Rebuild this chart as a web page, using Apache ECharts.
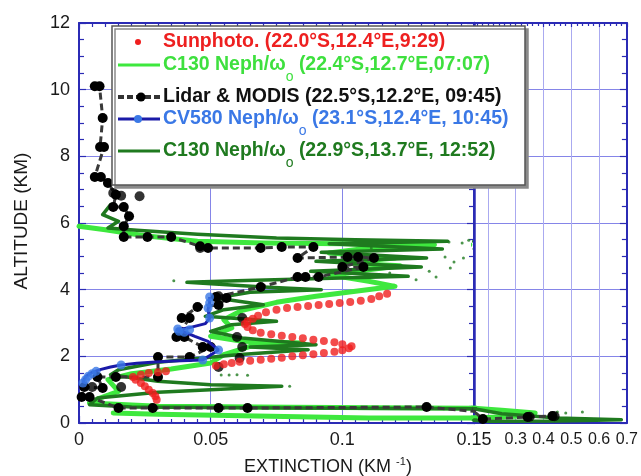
<!DOCTYPE html>
<html>
<head>
<meta charset="utf-8">
<script src="https://cdn.jsdelivr.net/npm/echarts@6/dist/echarts.min.js"></script>
<style>
  html, body { margin: 0; padding: 0; background: #fff; }
  #chart { width: 641px; height: 476px; }
</style>
</head>
<body>
<div id="chart"></div>
<script>
// values: [extinction (1/km), altitude (km)]
const sunphoto = [
  [0.0295, 0.70], [0.0290, 0.80], [0.0280, 0.90], [0.0265, 1.00], [0.0250, 1.10], [0.0235, 1.20],
  [0.0215, 1.30], [0.0205, 1.38], [0.0235, 1.45], [0.0265, 1.50], [0.0300, 1.52], [0.0330, 1.55],
  [0.0520, 1.72], [0.0550, 1.76], [0.0580, 1.80], [0.0610, 1.84], [0.0650, 1.87], [0.0690, 1.90],
  [0.0730, 1.93], [0.0770, 1.96], [0.0810, 2.00], [0.0850, 2.03], [0.0890, 2.06], [0.0930, 2.10],
  [0.0970, 2.14], [0.1000, 2.18], [0.1025, 2.24], [0.1035, 2.30], [0.1000, 2.36], [0.0970, 2.42],
  [0.0930, 2.46], [0.0890, 2.50], [0.0850, 2.54], [0.0810, 2.58], [0.0770, 2.62], [0.0730, 2.66],
  [0.0690, 2.71], [0.0660, 2.78], [0.0640, 2.88], [0.0630, 2.97], [0.0640, 3.05], [0.0660, 3.13],
  [0.0680, 3.22], [0.0710, 3.32], [0.0750, 3.40], [0.0790, 3.45], [0.0830, 3.48], [0.0870, 3.51],
  [0.0910, 3.54], [0.0950, 3.57], [0.0990, 3.60], [0.1030, 3.63], [0.1070, 3.67], [0.1110, 3.72],
  [0.1140, 3.80], [0.1170, 3.88]
];

const c130Early = [
  [0.000, 5.90], [0.010, 5.80], [0.025, 5.62], [0.045, 5.45], [0.070, 5.40], [0.100, 5.38], [0.135, 5.35],
  [0.110, 5.25], [0.095, 5.10], [0.120, 4.95], [0.100, 4.80], [0.122, 4.72], [0.095, 4.45], [0.110, 4.25],
  [0.120, 4.10], [0.105, 3.95], [0.090, 3.80], [0.075, 3.62], [0.062, 3.38], [0.055, 3.10], [0.058, 2.85],
  [0.050, 2.60], [0.062, 2.45], [0.085, 2.40], [0.065, 2.30], [0.055, 2.05], [0.050, 1.80], [0.035, 1.62],
  [0.020, 1.48], [0.011, 1.30], [0.015, 0.95], [0.008, 0.75], [0.004, 0.60], [0.030, 0.50], [0.080, 0.47],
  [0.150, 0.44], [0.250, 0.38], [0.370, 0.30], [0.300, 0.20], [0.150, 0.15], [0.110, 0.15], [0.030, 0.26],
  [0.013, 0.30]
];

const c130Late = [
  [0.012, 6.55], [0.009, 6.25], [0.015, 6.05], [0.011, 5.85], [0.022, 5.78], [0.045, 5.66], [0.075, 5.55],
  [0.105, 5.50], [0.140, 5.45], [0.095, 5.38], [0.138, 5.22], [0.092, 5.12], [0.132, 4.95], [0.090, 4.85],
  [0.130, 4.68], [0.088, 4.55], [0.125, 4.40], [0.085, 4.32], [0.060, 4.27], [0.041, 4.22], [0.070, 4.08],
  [0.092, 4.00], [0.065, 3.92], [0.052, 3.75], [0.070, 3.55], [0.055, 3.40], [0.048, 3.20], [0.075, 3.05],
  [0.058, 2.95], [0.050, 2.75], [0.062, 2.55], [0.090, 2.35], [0.065, 2.28], [0.087, 2.20], [0.060, 2.05],
  [0.030, 1.82], [0.015, 1.60], [0.012, 1.45], [0.030, 1.25], [0.050, 1.15], [0.077, 1.10], [0.050, 1.00],
  [0.030, 0.92], [0.007, 0.75], [0.004, 0.55], [0.020, 0.48], [0.080, 0.45], [0.150, 0.43], [0.250, 0.28],
  [0.450, 0.15], [0.680, 0.10], [0.450, 0.06], [0.200, 0.05], [0.150, 0.08]
];

const c130Dust = [
  [0.1405, 5.43], [0.1455, 5.40], [0.1480, 5.48], [0.1390, 4.98], [0.1424, 4.83], [0.1460, 4.95],
  [0.1410, 4.65], [0.1356, 4.38], [0.1110, 5.25], [0.1330, 4.55], [0.1280, 4.30], [0.1180, 4.50],
  [0.0600, 1.45], [0.0570, 1.44], [0.0540, 1.44], [0.0640, 1.43], [0.0360, 4.27], [0.0800, 1.10],
  [0.4500, 0.33], [0.4800, 0.30], [0.5400, 0.33]
];

const lidarPath = [
  [0.006, 10.10], [0.0078, 10.10], [0.009, 9.15], [0.008, 8.28], [0.0095, 8.28], [0.006, 7.38], [0.0083, 7.38],
  [0.011, 7.20], [0.014, 6.85], [0.013, 6.48], [0.017, 6.48], [0.019, 6.20], [0.017, 5.90], [0.017, 5.58],
  [0.026, 5.58], [0.035, 5.58], [0.046, 5.30], [0.049, 5.25], [0.069, 5.25], [0.077, 5.28], [0.089, 5.28],
  [0.083, 4.95], [0.102, 4.98], [0.106, 4.98], [0.112, 4.95], [0.100, 4.68], [0.108, 4.68], [0.091, 4.38],
  [0.086, 4.38], [0.083, 4.38], [0.069, 4.08], [0.052, 3.78], [0.056, 3.75], [0.053, 3.54], [0.045, 3.48],
  [0.039, 3.15], [0.042, 3.15], [0.037, 2.58], [0.040, 2.58], [0.047, 2.28], [0.050, 2.28], [0.042, 1.98],
  [0.030, 1.98], [0.030, 1.38], [0.014, 1.38], [0.007, 1.38], [0.009, 1.05], [0.002, 1.08], [0.001, 0.78],
  [0.004, 0.78], [0.015, 0.45], [0.028, 0.45], [0.053, 0.45], [0.064, 0.45], [0.132, 0.48], [0.182, 0.12],
  [0.343, 0.18], [0.432, 0.21]
];

const lidarExtra = [
  [0.023, 6.80], [0.062, 3.15], [0.060, 2.58], [0.062, 2.28], [0.061, 1.95], [0.053, 1.68], [0.016, 1.08],
  [0.005, 1.08], [0.013, 6.90], [0.016, 6.82], [0.046, 5.25], [0.053, 3.80], [0.350, 0.19], [0.440, 0.20]
];

const cv580Line = [
  [0.0015, 1.20], [0.0020, 1.32], [0.0030, 1.42], [0.0050, 1.52], [0.0080, 1.60], [0.0120, 1.68],
  [0.0160, 1.74], [0.0220, 1.79], [0.0290, 1.83], [0.0360, 1.86], [0.0470, 1.89], [0.0530, 2.19],
  [0.0490, 2.45], [0.0440, 2.60], [0.0400, 2.73], [0.0370, 2.80], [0.0420, 2.86], [0.0480, 2.98],
  [0.0496, 3.15], [0.0490, 3.40], [0.0496, 3.60], [0.0496, 3.78]
];

const cv580Dots = [
  [0.0015, 1.20], [0.0025, 1.30], [0.0035, 1.40], [0.0050, 1.48], [0.0065, 1.55], [0.0160, 1.74],
  [0.0470, 1.89], [0.0530, 2.19], [0.0380, 2.75], [0.0400, 2.72], [0.0420, 2.80], [0.0375, 2.82],
  [0.0496, 3.15], [0.0490, 3.45], [0.0496, 3.60], [0.0496, 3.78]
];

const rightLabels = [0.3, 0.4, 0.5, 0.6, 0.7];

const legendRows = [
  { pre: 'Sunphoto. (22.0°S,12.4°E,9:29)', color: '#ee2020' },
  { pre: 'C130 Neph/ω', post: ' (22.4°S,12.7°E,07:07)', color: '#3ee03e' },
  { pre: 'Lidar & MODIS (22.5°S,12.2°E, 09:45)', color: '#111111' },
  { pre: 'CV580 Neph/ω', post: ' (23.1°S,12.4°E, 10:45)', color: '#3a78e6' },
  { pre: 'C130 Neph/ω', post: ' (22.9°S,13.7°E, 12:52)', color: '#1f7a1f' }
];

const FONT = 'Liberation Sans, Arial, sans-serif';
const AXIS = '#2b2bb5';
const GRID = '#8585e8';

const chart = echarts.init(document.getElementById('chart'), null, { renderer: 'canvas' });

function both(base) {
  return [0, 1].map(g => Object.assign({ xAxisIndex: g, yAxisIndex: g, clip: true, animation: false }, base));
}

const series = [].concat(
  both({ type: 'line', data: c130Early, symbol: 'none', z: 2,
    lineStyle: { color: '#3ee83e', width: 5, join: 'round', cap: 'round' } }),
  both({ type: 'line', data: c130Late, symbol: 'none', z: 3,
    lineStyle: { color: '#1f7a1f', width: 3.5, join: 'round', cap: 'round' } }),
  both({ type: 'scatter', data: c130Dust, symbolSize: 3, z: 3, itemStyle: { color: '#1f7a1f' } }),
  both({ type: 'line', data: lidarPath, symbol: 'circle', symbolSize: 10, z: 4,
    itemStyle: { color: '#000' }, lineStyle: { color: '#3a3a3a', width: 3, type: [7, 4] } }),
  both({ type: 'scatter', data: lidarExtra, symbolSize: 10, z: 4, itemStyle: { color: '#000' } }),
  both({ type: 'scatter', data: sunphoto, symbolSize: 8, z: 5, itemStyle: { color: '#f01e1e' } }),
  both({ type: 'line', data: cv580Line, symbol: 'none', z: 6,
    lineStyle: { color: '#1a1aa8', width: 3 } }),
  both({ type: 'scatter', data: cv580Dots, symbolSize: 9, z: 6, itemStyle: { color: '#3a78e6' } })
);

const tickLine = { color: AXIS, width: 1.2 };
const axisLine = { show: true, onZero: false, lineStyle: { color: AXIS, width: 2 } };

function legendGraphics() {
  const out = [];
  const rowsY = [42, 65, 97, 119, 151];
  out.push({
    type: 'rect', shape: { x: 112, y: 26, width: 413, height: 159 },
    style: { fill: '#fff', stroke: '#555', lineWidth: 1.5, shadowColor: '#8a8a8a', shadowOffsetX: 3, shadowOffsetY: 3 },
    z: 100
  });
  legendRows.forEach((r, i) => {
    const y = rowsY[i];
    let text = '{m|' + r.pre + '}';
    if (r.post) text += '{s|o}{m|' + r.post + '}';
    out.push({
      type: 'text', x: 163, y: y - 10, z: 102,
      style: {
        text, fill: r.color, font: 'bold 19.5px ' + FONT,
        rich: {
          m: { fontSize: 19.5, fontWeight: 'bold', fontFamily: FONT, fill: r.color, lineHeight: 20, verticalAlign: 'top' },
          s: { fontSize: 14, fontWeight: 'normal', fontFamily: FONT, fill: r.color, lineHeight: 14, verticalAlign: 'top', padding: [15, 0, 0, 0] }
        }
      }
    });
  });
  // sample marks
  out.push({ type: 'circle', shape: { cx: 138, cy: 42, r: 3 }, style: { fill: '#f01e1e' }, z: 102 });
  out.push({ type: 'line', shape: { x1: 118, y1: 65, x2: 160, y2: 65 }, style: { stroke: '#3ee83e', lineWidth: 3 }, z: 102 });
  out.push({ type: 'line', shape: { x1: 118, y1: 97, x2: 160, y2: 97 }, style: { stroke: '#333', lineWidth: 4, lineDash: [6, 3] }, z: 102 });
  out.push({ type: 'circle', shape: { cx: 141, cy: 97, r: 4.5 }, style: { fill: '#000' }, z: 103 });
  out.push({ type: 'line', shape: { x1: 118, y1: 119, x2: 160, y2: 119 }, style: { stroke: '#1a1aa8', lineWidth: 3 }, z: 102 });
  out.push({ type: 'circle', shape: { cx: 138, cy: 119, r: 4 }, style: { fill: '#3a78e6' }, z: 103 });
  out.push({ type: 'line', shape: { x1: 118, y1: 151, x2: 160, y2: 151 }, style: { stroke: '#1f7a1f', lineWidth: 3 }, z: 102 });
  return out;
}

const option = {
  backgroundColor: '#fff',
  animation: false,
  grid: [
    { left: 79, top: 23, width: 395, height: 400 },
    { left: 474, top: 23, width: 154, height: 400 }
  ],
  xAxis: [
    {
      gridIndex: 0, type: 'value', min: 0, max: 0.15, interval: 0.05, position: 'bottom',
      axisLine,
      axisTick: { inside: true, length: 7, lineStyle: tickLine },
      minorTick: { show: true, splitNumber: 10, length: 4, lineStyle: tickLine },
      splitLine: { show: true, lineStyle: { color: GRID, width: 1 } },
      axisLabel: { fontSize: 18, fontFamily: FONT, color: '#1a1a1a', margin: 8,
        formatter: v => v === 0 ? '0' : String(+v.toFixed(2)) }
    },
    {
      gridIndex: 1, type: 'value', min: 0.15, max: 0.7, position: 'bottom',
      axisLine,
      axisTick: { show: false },
      splitLine: { show: true, lineStyle: { color: '#aaaaf0', width: 1 } },
      axisLabel: { customValues: rightLabels, fontSize: 16, fontFamily: FONT, color: '#1a1a1a', margin: 9,
        formatter: v => String(+v.toFixed(1)) }
    },
    {
      gridIndex: 0, type: 'value', min: 0, max: 0.15, interval: 0.05, position: 'top',
      axisLine,
      axisTick: { inside: true, length: 6, lineStyle: tickLine },
      minorTick: { show: true, splitNumber: 10, length: 4, lineStyle: tickLine },
      splitLine: { show: false }, axisLabel: { show: false }
    },
    {
      gridIndex: 1, type: 'value', min: 0.15, max: 0.7, position: 'top',
      axisLine,
      axisTick: { inside: true, length: 4, lineStyle: tickLine },
      minorTick: { show: true, splitNumber: 5, length: 3, lineStyle: tickLine },
      splitLine: { show: false }, axisLabel: { show: false }
    }
  ],
  yAxis: [
    {
      gridIndex: 0, type: 'value', min: 0, max: 12, interval: 2, position: 'left',
      axisLine,
      axisTick: { inside: true, length: 7, lineStyle: tickLine },
      minorTick: { show: true, splitNumber: 4, length: 5, lineStyle: tickLine },
      splitLine: { show: true, lineStyle: { color: GRID, width: 1 } },
      axisLabel: { fontSize: 18, fontFamily: FONT, color: '#1a1a1a', margin: 9 }
    },
    {
      gridIndex: 1, type: 'value', min: 0, max: 12, interval: 2, position: 'right',
      axisLine,
      axisTick: { inside: true, length: 7, lineStyle: tickLine },
      minorTick: { show: true, splitNumber: 4, length: 5, lineStyle: tickLine },
      splitLine: { show: true, lineStyle: { color: GRID, width: 1 } },
      axisLabel: { show: false }
    },
    {
      gridIndex: 0, type: 'value', min: 0, max: 12, interval: 2, position: 'right',
      axisLine: { show: true, onZero: false, lineStyle: { color: AXIS, width: 2.5 } },
      axisTick: { inside: true, length: 7, lineStyle: tickLine },
      minorTick: { show: true, splitNumber: 4, length: 5, lineStyle: tickLine },
      splitLine: { show: false }, axisLabel: { show: false }
    },
    {
      gridIndex: 1, type: 'value', min: 0, max: 12, interval: 2, position: 'left',
      axisLine, axisTick: { show: false }, splitLine: { show: false }, axisLabel: { show: false }
    }
  ],
  series,
  graphic: [
    {
      type: 'text', x: 22, y: 221, rotation: Math.PI / 2, z: 50,
      style: { text: 'ALTITUDE (KM)', font: '19px ' + FONT, fill: '#1a1a1a', align: 'center', verticalAlign: 'middle' }
    },
    {
      type: 'text', x: 328, y: 466, z: 50,
      style: {
        text: '{m|EXTINCTION (KM }{s|-1}{m|)}', align: 'center', verticalAlign: 'middle',
        rich: {
          m: { fontSize: 18, fontFamily: FONT, fill: '#1a1a1a', lineHeight: 20, verticalAlign: 'bottom' },
          s: { fontSize: 11, fontFamily: FONT, fill: '#1a1a1a', lineHeight: 11, verticalAlign: 'top' }
        }
      }
    }
  ].concat(legendGraphics())
};

chart.setOption(option);
</script>
</body>
</html>
